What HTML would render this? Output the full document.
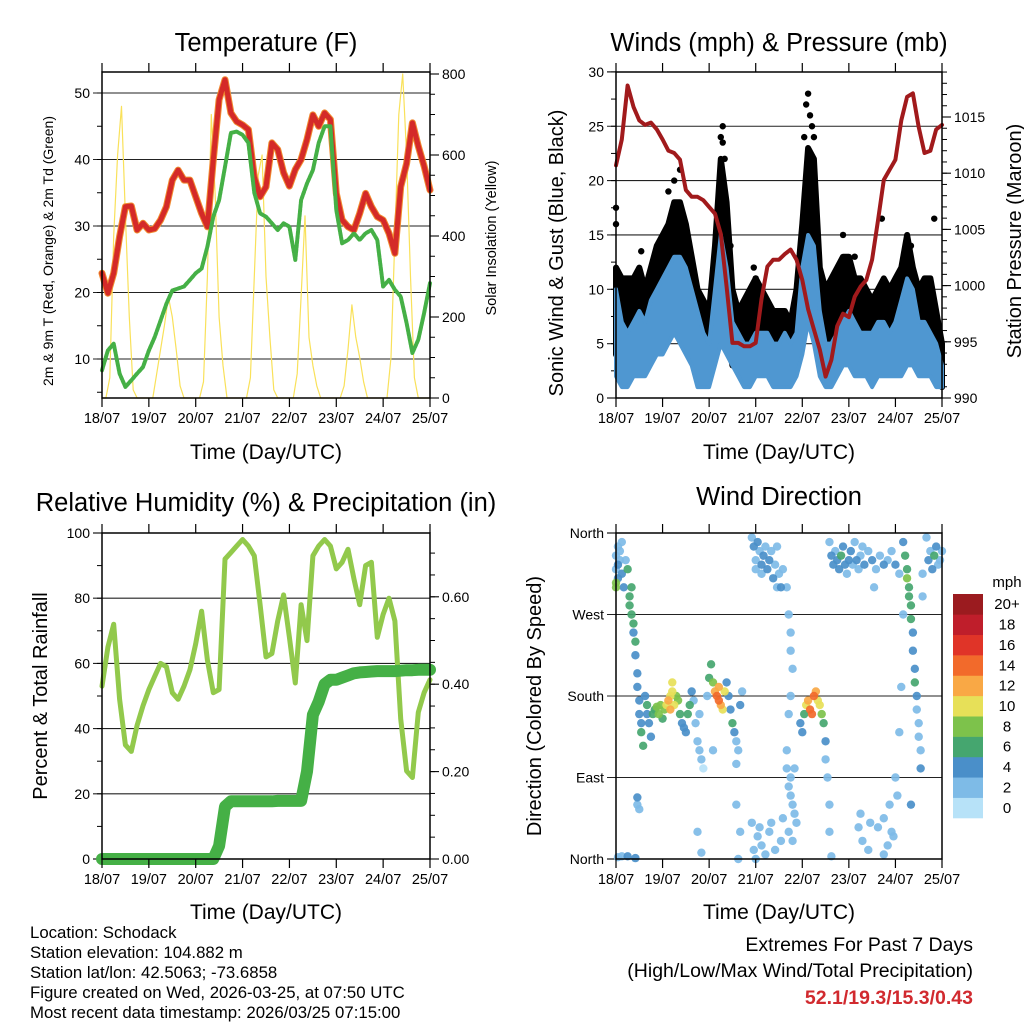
<!DOCTYPE html>
<html><head><meta charset="utf-8">
<style>
html,body{margin:0;padding:0;background:#fff;}
svg{display:block;font-family:"Liberation Sans",sans-serif;}
</style></head>
<body>
<svg id="chart" width="1024" height="1024" viewBox="0 0 1024 1024" xmlns="http://www.w3.org/2000/svg"></svg>
<script>
// ---------- DATA (3-hourly, t = 0..168 h) ----------
const dayLabels = ["18/07","19/07","20/07","21/07","22/07","23/07","24/07","25/07"];
const tempF = [22.9,19.9,22.9,28.4,32.9,33,29.4,30.4,29.4,29.6,30.9,32.9,36.9,38.4,36.9,36.9,34.4,31.9,29.9,40,49,52,47,45.7,45.2,44.5,37.4,34.4,35.9,42.5,41.5,38,36,38.5,40,43,46.7,45,47,46,34.9,30.9,29.9,29.4,31.9,34.9,32.9,31.4,30.9,28.9,25.9,35.9,39.4,45.5,42,39,35.4];
const dewF = [8.3,11.3,12.3,7.8,5.8,6.8,7.8,8.8,11.3,13.3,15.8,18.3,20.3,20.6,20.9,21.9,22.9,23.6,26.9,31.4,33.9,38.9,44,44.2,43.7,42.5,35,31.9,31.4,30.4,29.4,30.4,29.9,24.9,33.9,36.4,38.4,42.5,45,45,32.4,27.4,27.9,28.9,27.9,28.9,29.4,27.9,20.9,21.9,20.4,19.4,15.4,10.9,12.9,16.9,21.4];
// solar insolation, 2-hourly
const solar = [0,0,50,400,600,720,450,200,20,0,0,0, 0,0,60,120,180,250,200,120,30,0,0,0, 0,0,40,300,700,500,200,80,0,0,0,0, 0,0,50,300,550,600,300,150,20,0,0,0, 0,0,60,250,450,150,80,30,0,0,0,0, 0,0,30,120,230,150,100,40,0,0,0,0, 0,0,100,400,700,800,600,300,50,0,0,0,0];
const pressure = [1010.7,1013,1017.8,1015.9,1014.7,1014.3,1014.5,1013.9,1013,1012,1011.8,1011.2,1008.5,1007.9,1007.9,1007.6,1007,1006.4,1004.6,999.9,994.9,994.9,994.6,994.6,994.9,998.8,1001.7,1002.3,1002.3,1002.8,1003.2,1002.3,1000.5,997.9,996.1,994.3,991.9,993.4,996.4,997.5,997.2,999,999.9,1000.5,1002.3,1005.8,1009.4,1010.3,1011.2,1014.7,1016.8,1017.1,1014.1,1011.8,1012,1013.9,1014.3];
const windLo = [2,1,1,2,2,2,3,4,4,5,6,5,4,3,1,1,1,3,5,4,3,2,1,1,2,2,2,1,1,1,1,2,4,7,5,2,1,1,2,3,3,2,2,2,1,2,2,2,2,2,3,3,2,2,2,1,1];
const windHi = [10,7,6,7,8,7,9,10,11,12,13,13,12,10,8,6,5,10,15,12,7,6,5,5,6,6,6,5,5,6,5,6,12,15,14,8,5,5,6,7,8,7,6,6,6,7,7,6,7,9,11,10,7,7,6,5,3];
const gustLo = [4,3,4,4,5,5,5,6,7,8,8,7,6,4,3,2,2,5,8,6,3,3,3,3,3,3,3,2,2,3,2,3,6,9,7,4,3,3,4,5,5,4,4,3,3,3,3,3,4,4,5,4,3,3,3,2,1];
const gustHi = [12,11,11,11,12,10,12,14,15,16,18,18,16,13,10,9,8,14,22,18,10,8,9,10,11,10,9,8,8,8,7,10,16,23,22,12,10,11,12,13,13,11,11,10,9,10,11,10,11,12,15,12,10,11,11,8,5];
const gustOutT = [0,0,99,100,55,55,59,71,72,117,123,137,164,152,13,98,101,54,56,97,102,27,30,33];
const gustOutV = [17.5,16,28,26,25,23.5,14,12,11,15,13,16.5,16.5,14,13.5,27,25,24,22,24,24,19,20,21];
const rhPct = [53,65,72,49,35,33,41,47,52,56,60,59,51,49,53,58,66,76,61,51,52,92,94,96,98,96,93,78,62,63,73,81,68,54,78,67,93,96,98,96,89,91,95,86,78,90,91,68,75,80,73,43,27,25,45,51,55];
const precipIn = [0,0,0,0,0,0,0,0,0,0,0,0,0,0,0,0,0,0,0,0,0.03,0.12,0.132,0.132,0.132,0.132,0.132,0.132,0.132,0.132,0.133,0.133,0.133,0.133,0.133,0.2,0.33,0.36,0.40,0.41,0.41,0.415,0.42,0.425,0.427,0.428,0.429,0.43,0.43,0.43,0.43,0.431,0.432,0.432,0.433,0.433,0.433];
// wind direction observations: [hour, degrees, mph]
const dirObs = [
[0,335,3],[0,320,2],[0,305,9],[0,300,9],[1,345,2],[1,325,4],[1,310,4],[2,340,3],[2,330,2],[3,350,2],[3,315,4],[4,300,4],[5,330,3],[6,320,6],[7,290,6],[7,280,6],[8,300,7],[8,270,6],[9,260,6],[9,250,4],[10,240,6],[10,225,4],[11,205,4],[11,190,4],[12,175,4],[12,160,5],[13,150,4],[13,140,6],[14,125,7],[11,68,4],[11,60,2],[12,55,2],[3,3,2],[1,2,3],[6,3,4],[10,1,4],
[15,180,5],[16,170,6],[16,160,4],[17,150,4],[18,135,5],[19,160,6],[20,165,7],[21,168,8],[22,160,9],[23,170,8],[24,155,7],[25,165,9],[26,170,10],[27,175,12],[28,180,11],[28,165,12],[29,185,10],[29,195,10],[30,170,11],[31,180,9],[32,175,8],[33,160,7],[34,150,5],[35,145,5],[36,140,4],[37,160,6],[38,170,7],[39,185,4],[40,175,3],[41,150,2],[42,130,2],[43,120,2],[44,110,2],[45,100,1],[43,160,2],[42,30,2],[44,7,2],
[47,180,3],[48,200,6],[49,215,6],[50,195,8],[51,185,12],[52,180,14],[53,175,15],[53,190,13],[54,170,12],[55,165,11],[56,185,10],[57,195,4],[58,180,4],[59,165,4],[60,150,6],[61,140,4],[62,130,3],[63,120,3],[64,170,4],[65,185,2],[62,105,3],[64,30,2],[63,0,2],
[70,355,3],[71,345,4],[72,330,3],[72,320,2],[73,350,4],[74,340,3],[75,325,4],[75,315,2],[76,335,4],[77,345,3],[78,320,5],[79,330,4],[80,340,3],[81,310,4],[82,325,3],[83,345,2],[84,315,2],[85,300,4],[86,320,2],[88,300,2],[83,300,2],
[70,40,2],[71,10,2],[72,0,2],[73,25,2],[74,35,3],[75,15,2],[77,5,2],[79,30,3],[80,40,2],[82,10,2],[85,20,2],[86,45,2],[62,60,2],[50,120,2],
[89,270,2],[90,250,2],[90,230,3],[91,210,2],[90,180,2],[89,160,2],[88,120,2],[88,100,2],[89,80,2],[90,70,2],[91,60,2],[92,50,2],[93,40,2],[90,90,2],[92,100,3],[89,30,2],[91,20,2],[95,150,4],[96,140,5],[97,160,7],[98,170,10],[99,175,12],[100,165,14],[101,160,15],[102,180,14],[103,185,12],[104,175,11],[105,170,10],[106,160,8],[107,150,6],[108,130,4],[108,110,2],[109,90,2],[110,60,2],[110,30,2],[111,3,3],
[110,350,2],[111,335,4],[112,325,4],[113,340,3],[114,330,5],[115,320,4],[116,335,6],[117,345,4],[118,325,4],[119,315,3],[120,330,5],[121,340,4],[122,325,3],[123,350,3],[124,330,4],[125,320,2],[126,335,3],[128,325,4],[130,340,3],[132,330,4],[134,320,3],[136,335,2],[138,325,4],[140,330,3],[142,340,2],[144,325,4],[146,315,2],[127,345,2],[133,300,2],
[125,35,2],[126,50,2],[127,20,3],[130,10,2],[131,40,2],[135,35,2],[138,45,2],[140,15,2],[141,60,2],[142,30,2],[143,25,2],[145,70,2],[144,90,2],[138,5,2],
[148,350,4],[149,335,6],[150,320,7],[150,310,9],[151,300,7],[151,290,7],[152,280,6],[152,265,6],[153,250,5],[153,230,5],[154,210,5],[154,195,6],[155,180,5],[155,165,3],[156,150,3],[156,135,3],[157,120,3],[157,100,4],[148,270,2],[152,60,4],[147,190,2],[146,140,2],
[160,355,2],[161,330,4],[162,340,3],[163,320,4],[164,335,6],[165,345,4],[166,325,3],[167,330,3],[168,340,2],[158,290,2],[158,315,2]
];
const speedColors = ["#b7e2f8","#7ebbe7","#4a8fc9","#45a66f","#7dc24b","#e7e058","#f9a845","#f26a2b","#e03428","#bf1e2b","#9b1b1f"];
const speedLabels = ["0","2","4","6","8","10","12","14","16","18","20+"];

// ---------- helpers ----------
const NS='http://www.w3.org/2000/svg';
const svg=document.getElementById('chart');
function el(tag,attrs,parent){const e=document.createElementNS(NS,tag);for(const k in attrs)e.setAttribute(k,attrs[k]);(parent||svg).appendChild(e);return e;}
function txt(x,y,s,size,anchor,extra){const e=el('text',Object.assign({x:x,y:y,'font-size':size,'text-anchor':anchor||'middle',fill:'#000'},extra||{}));e.textContent=s;return e;}
function ln(x1,y1,x2,y2,w,c){return el('line',{x1:x1,y1:y1,x2:x2,y2:y2,stroke:c||'#000','stroke-width':w||1});}

function makePanel(x0,y0,x1,y1){
  const P={x0,y0,x1,y1};
  P.x=t=>x0+t/168*(x1-x0);
  return P;
}
function xAxis(P,name){
  const g=el('g',{});
  
  
  dayLabels.forEach((d,i)=>{
    const x=P.x(i*24);
    ln(x,P.y0-9,x,P.y0,1.2);
    ln(x,P.y1,x,P.y1+9,1.2);
    const t=txt(x,P.y1+25,d,14.5);
    
    
  });
}
function leftAxis(P,ys,majors,minors,labels,grid){
  majors.forEach((v,i)=>{
    const y=ys(v);
    if(grid && y>P.y0+1 && y<P.y1-1){const g=ln(P.x0-9,y,P.x1,y,1.1,'#222');}
    else ln(P.x0-9,y,P.x0,y,1.1);
    if(labels[i]!==null){const t=txt(P.x0-12,y+5,labels[i],14,'end');}
  });
  minors.forEach(v=>ln(P.x0-5,ys(v),P.x0,ys(v),1));
}
function rightAxis(P,ys,majors,minors,labels){
  majors.forEach((v,i)=>{
    const y=ys(v);
    ln(P.x1,y,P.x1+9,y,1.1);
    const t=txt(P.x1+12,y+5,labels[i],14,'start');
    
    
  });
  minors.forEach(v=>ln(P.x1,ys(v),P.x1+5,ys(v),1));
}
function frame(P,name){
  const r=el('rect',{x:P.x0,y:P.y0,width:P.x1-P.x0,height:P.y1-P.y0,fill:'none',stroke:'#000','stroke-width':1.5});
  
  
}
function poly(pts,stroke,w,name,extra){
  const p=el('polyline',Object.assign({points:pts.map(p=>p[0].toFixed(1)+','+p[1].toFixed(1)).join(' '),fill:'none',stroke:stroke,'stroke-width':w,'stroke-linejoin':'round','stroke-linecap':'round'},extra||{}));
  
  
  return p;
}
function band(P,lo,hi,ys,color,w,name){
  const pts=[];
  hi.forEach((v,i)=>pts.push(P.x(i*3).toFixed(1)+','+ys(v).toFixed(1)));
  for(let i=lo.length-1;i>=0;i--)pts.push(P.x(i*3).toFixed(1)+','+ys(lo[i]).toFixed(1));
  const p=el('polygon',{points:pts.join(' '),fill:color,stroke:color,'stroke-width':w,'stroke-linejoin':'round'});
  
  
}
function range(a,b,s){const r=[];for(let v=a;v<=b+1e-9;v+=s)r.push(+v.toFixed(4));return r;}

// ---------- Panel 1: Temperature ----------
const P1=makePanel(102,72,430,398);
const yT=v=>359-(v-10)*6.65;
const yS=v=>398-v*0.405;
txt(266,51,'Temperature (F)',25.5);
leftAxis(P1,yT,[10,20,30,40,50],range(5,50,5),['10','20','30','40','50'],true);
rightAxis(P1,yS,[0,200,400,600,800],range(0,800,50),['0','200','400','600','800']);
poly(solar.map((v,i)=>[P1.x(i*2),yS(v)]),'#f9e15a',1.2,'solar-insolation-line');
poly(tempF.map((v,i)=>[P1.x(i*3),yT(v)]),'#f08a30',7,'temp-9m-line');
poly(tempF.map((v,i)=>[P1.x(i*3),yT(v)]),'#d42a28',5,'temp-2m-line');
poly(dewF.map((v,i)=>[P1.x(i*3),yT(v)]),'#45b046',4,'dewpoint-line',{'stroke-dasharray':'3,1.5'});
frame(P1,'temperature-plot-frame');
xAxis(P1,'temperature-x-axis');
txt(266,459,'Time (Day/UTC)',21);
txt(0,0,'2m & 9m T (Red, Orange) & 2m Td (Green)',14,'middle',{transform:'translate(53,251) rotate(-90)'});
txt(0,0,'Solar Insolation (Yellow)',14.5,'middle',{transform:'translate(496,238) rotate(-90)'});

// ---------- Panel 2: Winds & Pressure ----------
const P2=makePanel(616,72,942,398);
const yW=v=>398-v*10.87;
const yP=p=>398-(p-990)*11.24;
txt(779,51,'Winds (mph) & Pressure (mb)',25.5);
leftAxis(P2,yW,[0,5,10,15,20,25,30],range(0,30,2.5),['0','5','10','15','20','25','30'],true);
rightAxis(P2,yP,[990,995,1000,1005,1010,1015],range(990,1019,1),['990','995','1000','1005','1010','1015']);
band(P2,gustLo,gustHi,yW,'#000',6,'gust-band');
gustOutT.forEach((t,i)=>{const c=el('circle',{cx:P2.x(t),cy:yW(gustOutV[i]),r:3.2,fill:'#000'});});
band(P2,windLo,windHi,yW,'#4f97d1',4,'wind-speed-band');
poly(pressure.map((v,i)=>[P2.x(i*3),yP(v)]),'#a11a1c',4,'pressure-line');
frame(P2,'winds-plot-frame');
xAxis(P2,'winds-x-axis');
txt(779,459,'Time (Day/UTC)',21);
txt(0,0,'Sonic Wind & Gust (Blue, Black)',20,'middle',{transform:'translate(563,253) rotate(-90)'});
txt(0,0,'Station Pressure (Maroon)',20,'middle',{transform:'translate(1021,241) rotate(-90)'});

// ---------- Panel 3: RH & Precip ----------
const P3=makePanel(102,533,430,859);
const yR=v=>859-v*3.26;
const yPr=v=>859-v*437;
txt(266,511,'Relative Humidity (%) & Precipitation (in)',25.5);
leftAxis(P3,yR,[0,20,40,60,80,100],range(0,100,10),['0','20','40','60','80','100'],true);
rightAxis(P3,yPr,[0,0.2,0.4,0.6],range(0,0.74,0.05),['0.00','0.20','0.40','0.60']);
poly(rhPct.map((v,i)=>[P3.x(i*3),yR(v)]),'#92c94c',5,'humidity-line');
poly(precipIn.map((v,i)=>[P3.x(i*3),yPr(v)]),'#45b046',12,'precip-line');
frame(P3,'humidity-plot-frame');
xAxis(P3,'humidity-x-axis');
txt(266,919,'Time (Day/UTC)',21);
txt(0,0,'Percent & Total Rainfall',20,'middle',{transform:'translate(47,696) rotate(-90)'});

// ---------- Panel 4: Wind Direction ----------
const P4=makePanel(616,533,942,859);
const yD=d=>859-d*326/360;
txt(779,505,'Wind Direction',25.5);
leftAxis(P4,yD,[0,90,180,270,360],[],['North','East','South','West','North'],true);
dirObs.slice().sort((a,b)=>a[2]-b[2]).forEach(o=>{
  const bin=Math.min(10,Math.floor(o[2]/2));
  const c=el('circle',{cx:P4.x(o[0]),cy:yD(o[1]),r:4.2,fill:speedColors[bin],'fill-opacity':0.92});
  
  
});
frame(P4,'direction-plot-frame');
xAxis(P4,'direction-x-axis');
txt(779,919,'Time (Day/UTC)',21);
txt(0,0,'Direction (Colored By Speed)',20,'middle',{transform:'translate(541,706) rotate(-90)'});

// colorbar
const cb=el('g',{});


speedColors.forEach((c,i)=>{
  const h=(818-594)/11;
  const y=818-(i+1)*h;
  const r=el('rect',{x:953,y:y,width:30,height:h+0.3,fill:c},cb);
  
  
  const t=txt(1007,y+h/2+5,speedLabels[i],15,'middle');
  
  
});
txt(1007,587,'mph',15);

// ---------- Footer text ----------
['Location: Schodack','Station elevation: 104.882 m','Station lat/lon: 42.5063; -73.6858','Figure created on Wed, 2026-03-25, at 07:50 UTC','Most recent data timestamp: 2026/03/25 07:15:00'].forEach((s,i)=>{
  const t=txt(30,938+i*20,s,16.8,'start');
  
  
});
txt(973,951,'Extremes For Past 7 Days',19.5,'end');
txt(973,977,'(High/Low/Max Wind/Total Precipitation)',19.5,'end');
txt(973,1004,'52.1/19.3/15.3/0.43',19.5,'end',{fill:'#d12a2f','font-weight':'bold'});
</script>
</body></html>
